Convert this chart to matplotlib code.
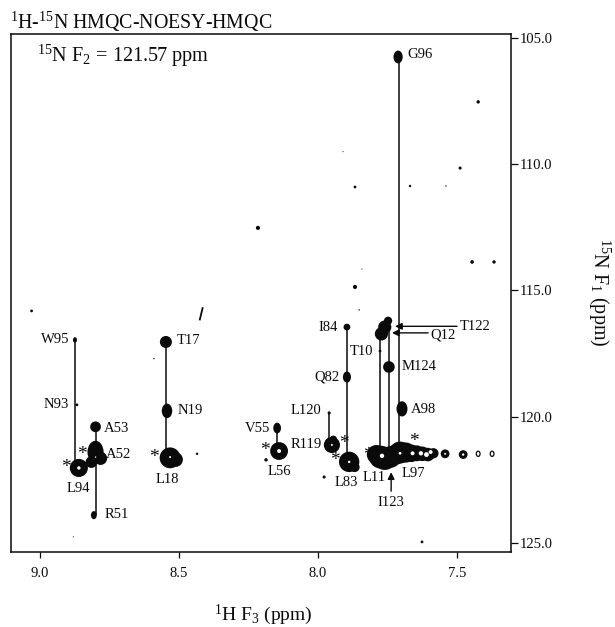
import matplotlib
matplotlib.use("Agg")
import matplotlib.pyplot as plt
from matplotlib.path import Path
from matplotlib.transforms import Affine2D

plt.rcParams['font.family'] = ['Liberation Serif', 'DejaVu Serif']
plt.rcParams['mathtext.fontset'] = 'custom'
plt.rcParams['mathtext.rm'] = 'Liberation Serif'
plt.rcParams['mathtext.default'] = 'rm'

# --- round peaks (ppm), intensity = drawn area ---
peak_h = [8.867, 8.80, 8.782, 8.815, 8.86, 8.547, 8.532, 8.512,
          8.14, 8.187, 7.96, 7.95, 7.945, 7.896, 7.888, 7.868,
          7.772, 7.76, 7.748, 7.777, 7.745]
peak_n = [119.53, 120.4, 121.65, 121.8, 122.03, 117.04, 121.63, 121.7,
          121.36, 121.71, 119.85, 121.12, 120.9, 116.45, 121.79, 122.0,
          116.72, 116.45, 116.2, 117.4, 118.03]
peak_area = [4, 60, 90, 70, 170, 75, 225, 110,
             165, 6, 5, 135, 30, 24, 215, 50,
             90, 90, 35, 4, 70]

# --- peaks stretched along the 15N axis ---
tall_h = [8.874, 8.80, 8.806, 8.543, 8.147, 7.896, 7.712, 7.698]
tall_n = [116.96, 121.4, 123.9, 119.77, 120.45, 118.43, 105.75, 119.69]
tall_area = [16, 260, 34, 110, 60, 65, 85, 120]

ridge_h = [7.79, 7.775, 7.76, 7.74, 7.72, 7.705, 7.685, 7.665, 7.645, 7.625, 7.605, 7.585, 7.543, 7.478]
ridge_n = [121.5, 121.6, 121.65, 121.6, 121.5, 121.42, 121.42, 121.45, 121.45, 121.47, 121.5, 121.45, 121.47, 121.5]
ridge_area = [190, 270, 280, 240, 210, 250, 210, 160, 130, 110, 95, 55, 40, 40]

speck_h = [8.80, 8.532, 8.14, 8.86, 7.95, 7.888, 7.77, 7.705, 7.66, 7.63, 7.61, 7.595, 7.543, 7.478]
speck_n = [121.6, 121.6, 121.36, 122.03, 121.12, 121.79, 121.55, 121.45, 121.45, 121.45, 121.5, 121.4, 121.47, 121.5]
speck_area = [1, 2, 8, 6, 2, 3, 10, 4, 8, 10, 12, 8, 2, 3]

open_h = [7.424, 7.374]
open_n = [121.47, 121.47]

dot_h = [9.03, 8.435, 8.59, 8.216, 7.867, 7.867, 7.424, 7.489, 7.669, 7.54, 7.446, 7.367,
         7.91, 7.842, 7.852, 7.978, 7.626, 8.88]
dot_n = [115.81, 121.47, 117.7, 112.52, 110.9, 114.86, 107.53, 110.15, 110.86, 110.86, 113.87, 113.87,
         109.5, 114.15, 115.77, 122.39, 124.96, 124.76]
dot_area = [4, 3, 1, 9, 4, 9, 6, 5, 3, 1, 7, 6, 0.6, 0.6, 1, 5, 4, 0.6]

# --- connecting lines (h, n start, n end) ---
line_h = [8.874, 8.80, 8.545, 8.147, 7.96, 7.896, 7.777, 7.745, 7.708]
line_top = [116.96, 120.4, 117.04, 120.45, 119.85, 116.45, 116.6, 116.5, 105.75]
line_bot = [121.8, 123.9, 121.5, 121.3, 121.0, 121.6, 121.3, 121.3, 121.2]

label_text = ["W95", "N93", "A53", "A52", "L94", "R51", "T17", "N19", "L18", "V55", "R119", "L56",
              "L120", "I84", "Q82", "T10", "M124", "T122", "Q12", "A98", "L83", "L11", "L97", "I123", "G96"]
label_h = [8.946, 8.942, 8.723, 8.719, 8.863, 8.723, 8.464, 8.46, 8.54, 8.219, 8.043, 8.14,
           8.043, 7.964, 7.968, 7.842, 7.637, 7.435, 7.55, 7.622, 7.899, 7.799, 7.658, 7.737, 7.633]
label_n = [116.96, 119.5, 120.45, 121.48, 122.86, 123.89, 117.0, 119.77, 122.47, 120.45, 121.12, 122.19,
           119.77, 116.45, 118.43, 117.4, 118.03, 116.41, 116.76, 119.73, 122.62, 122.39, 122.27, 123.38, 105.67]

star_h = [8.906, 8.849, 8.59, 8.191, 7.906, 7.939, 7.82, 7.655]
star_n = [121.91, 121.36, 121.48, 121.2, 120.96, 121.63, 121.4, 120.88]

x_ticks = [9.0, 8.5, 8.0, 7.5]
y_ticks = [105.0, 110.0, 115.0, 120.0, 125.0]

INK = "#0a0a0a"
TALL = Path.unit_circle().transformed(Affine2D().scale(0.72, 1.0))

fig = plt.figure(figsize=(6.15, 6.27), dpi=100)
ax = fig.add_axes([11 / 615, 1 - 552 / 627, 500 / 615, 518 / 627])
ax.set_xlim(9.104, 7.306)
ax.set_ylim(125.36, 104.84)

ax.vlines(line_h, line_top, line_bot, color=INK, lw=1.1, zorder=2)
ax.scatter(peak_h, peak_n, s=peak_area, color=INK, lw=0, zorder=3)
ax.scatter(tall_h, tall_n, s=tall_area, marker=TALL, color=INK, lw=0, zorder=3)
ax.scatter(ridge_h, ridge_n, s=ridge_area, color=INK, lw=0, zorder=3)
ax.scatter(speck_h, speck_n, s=speck_area, color="white", lw=0, zorder=4)
ax.scatter(open_h, open_n, s=14, marker=TALL, facecolor="none", edgecolor=INK, lw=0.9, zorder=3)
ax.scatter(dot_h, dot_n, s=dot_area, color=INK, lw=0, zorder=3)

# small slanted artefact near 8.42
ax.plot([8.425, 8.415], [116.15, 115.7], color=INK, lw=1.3)

for t, h, n in zip(label_text, label_h, label_n):
    ax.text(h, n, t, fontsize=10.5, ha="center", va="center", color=INK, zorder=5)
for h, n in zip(star_h, star_n):
    ax.text(h, n + 0.12, "*", fontsize=14, ha="center", va="center", color=INK, zorder=5)

arrow = dict(arrowstyle="-|>", color=INK, lw=1.0, mutation_scale=10, shrinkA=0, shrinkB=0)
ax.annotate("", xy=(7.723, 116.42), xytext=(7.50, 116.42), arrowprops=arrow, zorder=6)
ax.annotate("", xy=(7.734, 116.68), xytext=(7.604, 116.68), arrowprops=arrow, zorder=6)
ax.annotate("", xy=(7.737, 122.2), xytext=(7.737, 122.95), arrowprops=arrow, zorder=6)

ax.set_xticks(x_ticks)
ax.set_xticklabels([f"{v:.1f}" for v in x_ticks], fontsize=10.5)
ax.set_yticks(y_ticks)
ax.set_yticklabels([f"{v:.1f}" for v in y_ticks], fontsize=10.5)
ax.yaxis.tick_right()
ax.tick_params(axis="x", length=4, width=0.9, pad=7, color=INK, labelcolor=INK)
ax.tick_params(axis="y", length=5, width=0.9, pad=1, color=INK, labelcolor=INK)
for s in ax.spines.values():
    s.set_linewidth(1.1)
    s.set_color(INK)

fig.text(10 / 615, 1 - 22 / 627, r"$^{1}$H-$^{15}$N HMQC-NOESY-HMQC", fontsize=14.3, va="center", color=INK)
fig.text(37 / 615, 1 - 56 / 627, r"$^{15}$N F$_{2}$ = 121.57 ppm", fontsize=14.6, va="center", color=INK)
fig.text(263 / 615, 1 - 615 / 627, r"$^{1}$H F$_{3}$ (ppm)", fontsize=14, ha="center", va="center", color=INK)
fig.text(599 / 615, 1 - 292 / 627, r"$^{15}$N F$_{1}$ (ppm)", fontsize=14.5, rotation=-90, ha="center", va="center", color=INK)

fig.savefig("out.png", dpi=100)
